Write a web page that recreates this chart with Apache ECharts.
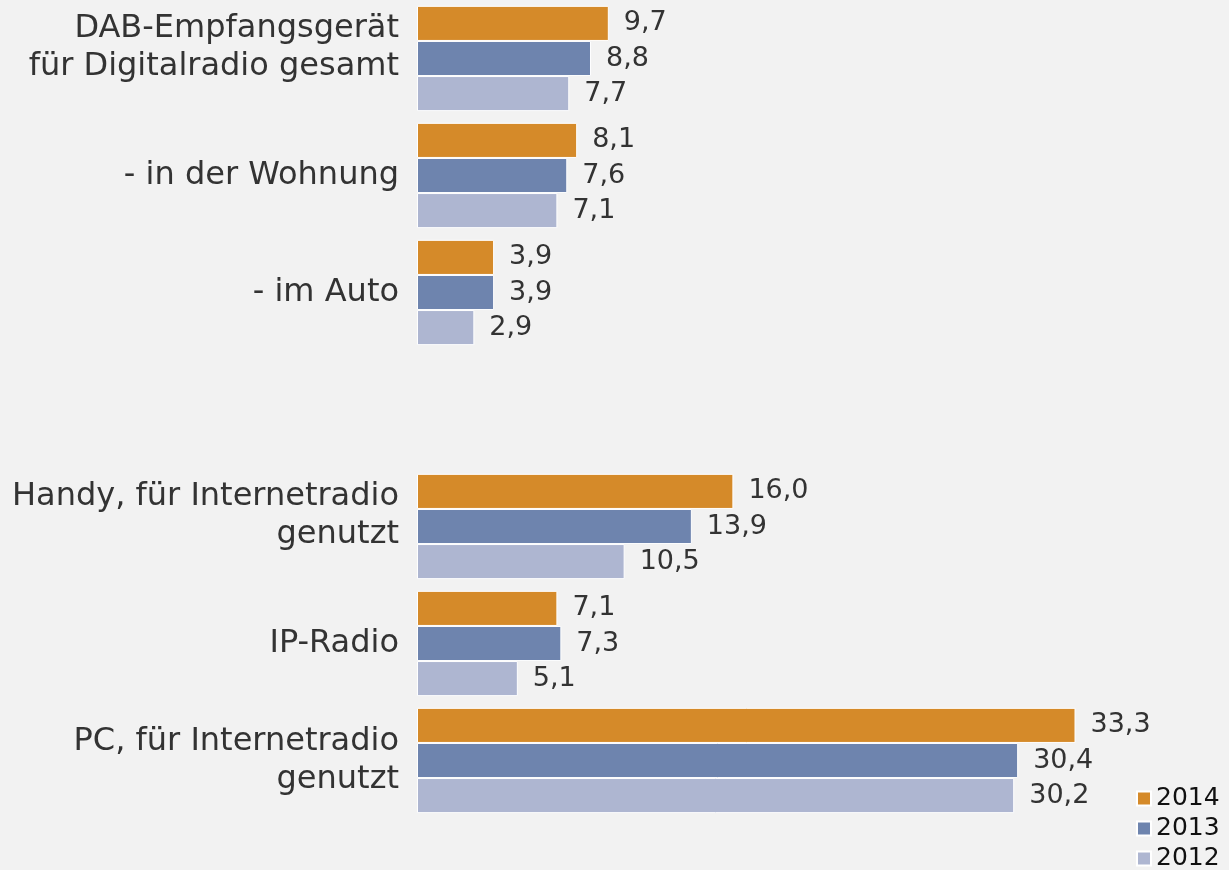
<!DOCTYPE html>
<html>
<head>
<meta charset="utf-8">
<style>
  html, body { margin: 0; padding: 0; background: #f2f2f2; }
  #chart { width: 1229px; height: 870px; }
</style>
<script src="https://cdn.jsdelivr.net/npm/echarts@6/dist/echarts.min.js"></script>
</head>
<body>
<div id="chart"></div>
<script>
// Kategorien (leere Kategorie = Abstand zwischen den Gruppen)
const categories = [
  'DAB-Empfangsgerät\nfür Digitalradio gesamt',
  '- in der Wohnung',
  '- im Auto',
  '',
  'Handy, für Internetradio\ngenutzt',
  'IP-Radio',
  'PC, für Internetradio\ngenutzt'
]
// diese Beschriftungen sitzen im Original etwas höher
const raisedLabels = [0, 4]
const years = ['2014', '2013', '2012']
const data2014 = [9.7, 8.1, 3.9, '-', 16.0, 7.1, 33.3]
const data2013 = [8.8, 7.6, 3.9, '-', 13.9, 7.3, 30.4]
const data2012 = [7.7, 7.1, 2.9, '-', 10.5, 5.1, 30.2]
const colors = ['#d58a29', '#6e84ae', '#aeb6d1']

const fontFamily = 'DejaVu Sans'

function makeSeries (name, values, color) {
  return {
    name: name,
    type: 'bar',
    data: values,
    barGap: 0,
    barCategoryGap: '10%',
    itemStyle: {
      color: color,
      borderColor: '#ffffff',
      borderWidth: 1
    },
    label: {
      show: true,
      position: 'right',
      distance: 15,
      color: '#333333',
      fontFamily: fontFamily,
      fontSize: 27,
      formatter: p => p.value.toFixed(1).replace('.', ',')
    },
    emphasis: { disabled: true },
    animation: false
  }
}

const myChart = echarts.init(document.getElementById('chart'))
const option = {
  backgroundColor: '#f2f2f2',
  textStyle: { fontFamily: fontFamily },
  grid: {
    left: 417,
    top: -2,
    width: 791,
    height: 821,
    containLabel: false
  },
  legend: {
    data: years,
    orient: 'vertical',
    left: 1136,
    top: 786,
    height: 120,
    padding: 0,
    icon: 'rect',
    itemWidth: 14,
    itemHeight: 14,
    itemGap: 5,
    selectedMode: false,
    textStyle: {
      color: '#111111',
      fontFamily: fontFamily,
      fontSize: 25,
      lineHeight: 25
    }
  },
  xAxis: {
    type: 'value',
    min: 0,
    max: 40,
    show: false
  },
  yAxis: {
    type: 'category',
    data: categories,
    inverse: true,
    axisLine: { show: false },
    axisTick: { show: false },
    axisLabel: {
      margin: 18,
      color: '#333333',
      fontFamily: fontFamily,
      fontSize: 32,
      lineHeight: 38,
      align: 'right',
      // leere Zusatzzeile schiebt den Text nach oben
      formatter: (value, index) => raisedLabels.indexOf(index) >= 0 ? value + '\n{s| }' : value,
      rich: {
        s: { fontSize: 10, lineHeight: 22 }
      }
    },
    splitLine: { show: false }
  },
  series: [
    makeSeries(years[0], data2014, colors[0]),
    makeSeries(years[1], data2013, colors[1]),
    makeSeries(years[2], data2012, colors[2])
  ]
}
myChart.setOption(option)
</script>
</body>
</html>
